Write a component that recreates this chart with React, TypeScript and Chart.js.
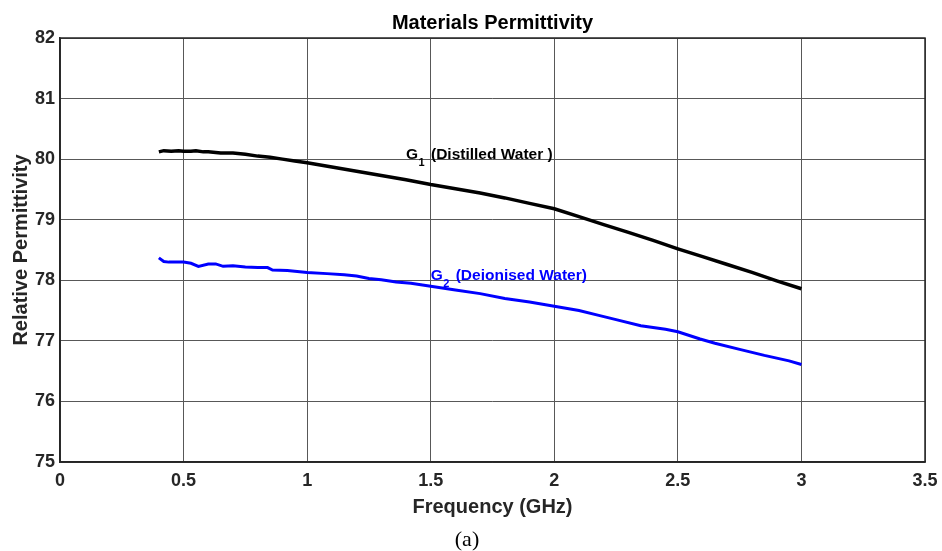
import React, { useEffect, useRef } from "react";
import { Chart, registerables } from "chart.js";

Chart.register(...registerables);

const TITLE = "Materials Permittivity";
const X_TITLE = "Frequency (GHz)";
const Y_TITLE = "Relative Permittivity";
const CAPTION = "(a)";

const G1_NAME = "G";
const G1_SUB = "1";
const G1_REST = " (Distilled Water )";
const G2_NAME = "G";
const G2_SUB = "2";
const G2_REST = " (Deionised Water)";

// label anchors in data units
const G1_ANCHOR = [1.4, 80.0];
const G2_ANCHOR = [1.5, 78.0];

const distilledX = [0.40, 0.42, 0.45, 0.48, 0.50, 0.53, 0.55, 0.58, 0.60, 0.63, 0.65, 0.70, 0.75, 0.80, 0.85, 0.90, 0.95, 1.00, 1.10, 1.20, 1.30, 1.40, 1.50, 1.60, 1.70, 1.80, 1.90, 2.00, 2.10, 2.20, 2.30, 2.40, 2.50, 2.60, 2.70, 2.80, 2.90, 3.00];
const distilledY = [80.12, 80.14, 80.13, 80.14, 80.13, 80.13, 80.14, 80.12, 80.12, 80.11, 80.10, 80.10, 80.08, 80.05, 80.03, 80.00, 79.97, 79.94, 79.87, 79.80, 79.73, 79.66, 79.58, 79.51, 79.44, 79.36, 79.27, 79.18, 79.05, 78.92, 78.79, 78.66, 78.52, 78.39, 78.26, 78.13, 77.99, 77.86];

const deionisedX = [0.40, 0.42, 0.44, 0.50, 0.53, 0.56, 0.60, 0.63, 0.66, 0.70, 0.75, 0.80, 0.84, 0.86, 0.92, 1.00, 1.08, 1.15, 1.20, 1.25, 1.30, 1.36, 1.42, 1.50, 1.60, 1.70, 1.80, 1.90, 2.00, 2.10, 2.18, 2.25, 2.35, 2.45, 2.50, 2.59, 2.65, 2.75, 2.85, 2.95, 3.00];
const deionisedY = [78.37, 78.31, 78.30, 78.30, 78.28, 78.23, 78.27, 78.27, 78.23, 78.24, 78.22, 78.21, 78.21, 78.17, 78.16, 78.13, 78.11, 78.09, 78.07, 78.03, 78.01, 77.97, 77.95, 77.90, 77.84, 77.78, 77.70, 77.64, 77.57, 77.50, 77.42, 77.35, 77.25, 77.19, 77.15, 77.03, 76.96, 76.86, 76.76, 76.67, 76.61];

const X_MIN = 0, X_MAX = 3.5, X_STEP = 0.5;
const Y_MIN = 75, Y_MAX = 82, Y_STEP = 1;

const SANS = '"Liberation Sans", Arial, sans-serif';
const SERIF = '"Liberation Serif", "Times New Roman", serif';

const textPlugin = {
  id: "texts",
  afterDatasetsDraw(chart: any) {
    const { ctx, chartArea, scales } = chart;
    const xs = scales.x, ys = scales.y;
    ctx.save();
    ctx.textBaseline = "alphabetic";
    ctx.fillStyle = "#000";
    ctx.textAlign = "center";
    ctx.font = `bold 20px ${SANS}`;
    ctx.fillText(TITLE, (chartArea.left + chartArea.right) / 2, 29);
    ctx.font = `22px ${SERIF}`;
    ctx.fillText(CAPTION, 467, 546);

    const drawLabel = (anchor: number[], name: string, sub: string, rest: string, color: string) => {
      let px = xs.getPixelForValue(anchor[0]);
      const py = ys.getPixelForValue(anchor[1]);
      ctx.fillStyle = color;
      ctx.textAlign = "left";
      ctx.font = `bold 15.5px ${SANS}`;
      ctx.fillText(name, px, py);
      px += ctx.measureText(name).width + 0.5;
      ctx.font = `bold 11px ${SANS}`;
      ctx.fillText(sub, px, py + 6.7);
      px += ctx.measureText(sub).width + 2;
      ctx.font = `bold 15.5px ${SANS}`;
      ctx.fillText(rest, px, py);
    };
    drawLabel(G1_ANCHOR, G1_NAME, G1_SUB, G1_REST, "#000000");
    drawLabel(G2_ANCHOR, G2_NAME, G2_SUB, G2_REST, "#0000ff");
    ctx.restore();
  },
};

const fmt = (v: any) => String(Math.round(Number(v) * 100) / 100);

export default function App() {
  const ref = useRef<HTMLCanvasElement>(null);
  useEffect(() => {
    if (!ref.current) return;
    const chart = new Chart(ref.current, {
      type: "line",
      data: {
        datasets: [
          {
            label: "G1 (Distilled Water )",
            data: distilledX.map((x, i) => ({ x, y: distilledY[i] })),
            borderColor: "#000000",
            borderWidth: 3.5,
            pointRadius: 0,
            tension: 0,
            fill: false,
          },
          {
            label: "G2 (Deionised Water)",
            data: deionisedX.map((x, i) => ({ x, y: deionisedY[i] })),
            borderColor: "#0000ff",
            borderWidth: 3,
            pointRadius: 0,
            tension: 0,
            fill: false,
          },
        ],
      },
      options: {
        responsive: false,
        animation: false,
        layout: { padding: { left: 0, top: 38, right: 17, bottom: 0 } },
        plugins: {
          legend: { display: false },
          title: { display: false },
          tooltip: { enabled: false },
        },
        scales: {
          x: {
            type: "linear",
            min: X_MIN,
            max: X_MAX,
            ticks: {
              stepSize: X_STEP,
              color: "#262626",
              font: { family: SANS, size: 18, weight: "bold" },
              padding: 8,
              maxRotation: 0,
              callback: fmt,
            },
            grid: { color: "#585858", lineWidth: 1, drawTicks: false },
            border: { color: "#262626", width: 1.5 },
            title: {
              display: true,
              text: X_TITLE,
              color: "#262626",
              font: { family: SANS, size: 20, weight: "bold" },
              padding: { top: 0, bottom: 32 },
            },
            afterFit: (s: any) => { s.height = 89; s.paddingLeft = 0; s.paddingRight = 0; },
          },
          y: {
            type: "linear",
            min: Y_MIN,
            max: Y_MAX,
            ticks: {
              stepSize: Y_STEP,
              color: "#262626",
              font: { family: SANS, size: 18, weight: "bold" },
              padding: 5,
              callback: fmt,
            },
            grid: { color: "#585858", lineWidth: 1, drawTicks: false },
            border: { color: "#262626", width: 1.5 },
            title: {
              display: true,
              text: Y_TITLE,
              color: "#262626",
              font: { family: SANS, size: 20, weight: "bold" },
              padding: { top: 9, bottom: 0 },
            },
            afterFit: (s: any) => { s.width = 60; s.paddingTop = 0; s.paddingBottom = 0; },
          },
        },
      },
      plugins: [
        textPlugin,
        {
          id: "frame",
          afterDraw(chart: any) {
            const { ctx, chartArea: a } = chart;
            ctx.save();
            ctx.strokeStyle = "#262626";
            ctx.lineWidth = 1.5;
            ctx.strokeRect(a.left, a.top, a.right - a.left, a.bottom - a.top);
            ctx.restore();
          },
        },
      ],
    } as any);
    return () => chart.destroy();
  }, []);
  return (
    <div style={{ position: "fixed", left: 0, top: 0, width: 942, height: 551, background: "#fff" }}>
      <canvas ref={ref} width={942} height={551} />
    </div>
  );
}
